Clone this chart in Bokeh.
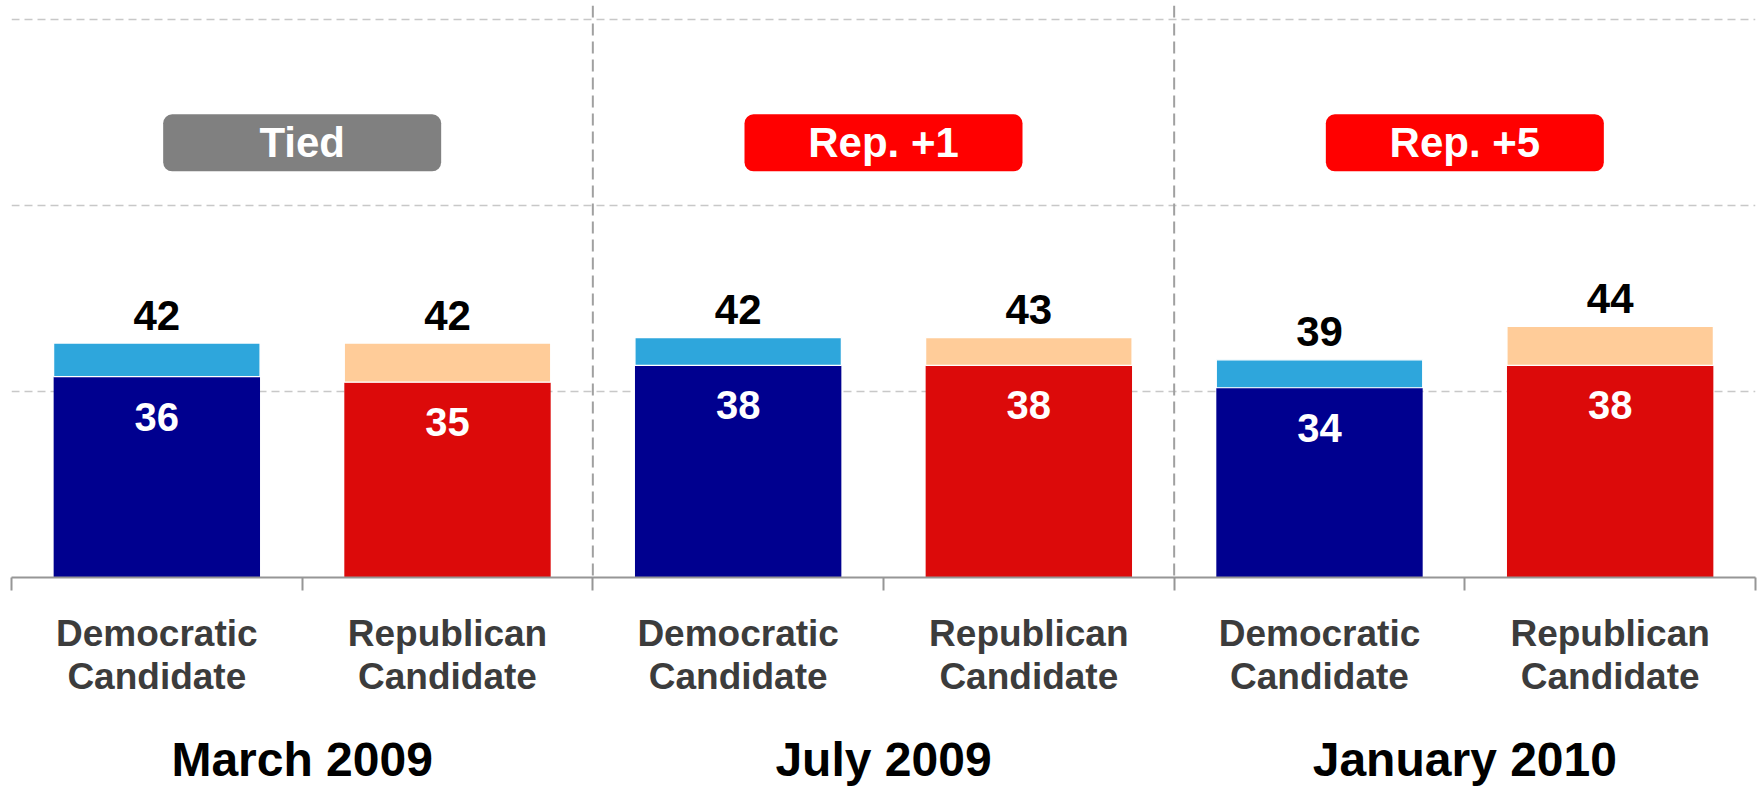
import numpy as np
from bokeh.plotting import figure
from bokeh.models import Range1d, LinearAxis, FixedTicker, Grid, Span
from bokeh.core.properties import value
from bokeh.embed import file_html
from bokeh.resources import INLINE

# ---------------- data ----------------
months = ["March 2009", "July 2009", "January 2010"]
candidates = ["Democratic\nCandidate", "Republican\nCandidate"]
dem_core = [36, 38, 34]
dem_lean = [6, 5, 5]
dem_total = [42, 42, 39]
rep_core = [35, 38, 38]
rep_lean = [7, 5, 7]
rep_total = [42, 43, 44]
margins = ["Tied", "Rep. +1", "Rep. +5"]

# ---------------- style ----------------
FONT = "Liberation Sans"
DEM_DARK, DEM_LIGHT = "#00008F", "#2EA6DC"
REP_DARK, REP_LIGHT = "#DC0A0A", "#FFCC99"
GRID_C, DIV_C, AXIS_C = "#C8C8C8", "#A0A0A0", "#969696"

n_groups = len(months)
n_cand = len(candidates)
n_cat = n_groups * n_cand
x_dem = np.arange(n_groups) * n_cand + 0.5
x_rep = x_dem + 1
group_centers = np.arange(n_groups) * n_cand + n_cand / 2
cat_centers = np.arange(n_cat) + 0.5

W, H = 1764, 789
BL, BR, BT, BB = 11, 9, 5, 212
Y_END = 102.5

p = figure(width=W, height=H, x_range=Range1d(0, n_cat), y_range=Range1d(0, Y_END),
           x_axis_type=None, y_axis_type=None, output_backend="svg", toolbar_location=None,
           min_border_left=BL, min_border_right=BR, min_border_top=BT, min_border_bottom=BB,
           outline_line_color=None, background_fill_color="white", border_fill_color="white")

# horizontal dashed grid (thirds of 0-100)
p.add_layout(Grid(dimension=1, ticker=FixedTicker(ticks=[100 / 3, 200 / 3, 100]),
                  grid_line_color=GRID_C, grid_line_dash="8 5", grid_line_width=1.3))

# bars
bw = 0.71
p.vbar(x=x_dem, bottom=0, top=dem_core, width=bw, fill_color=DEM_DARK, line_color=None)
p.vbar(x=x_dem, bottom=dem_core, top=np.add(dem_core, dem_lean), width=bw,
       fill_color=DEM_LIGHT, line_color="white", line_width=1.2)
p.vbar(x=x_rep, bottom=0, top=rep_core, width=bw, fill_color=REP_DARK, line_color=None)
p.vbar(x=x_rep, bottom=rep_core, top=np.add(rep_core, rep_lean), width=bw,
       fill_color=REP_LIGHT, line_color="white", line_width=1.2)

# value labels
common = dict(text_align="center", text_baseline="alphabetic",
              text_font=value(FONT), text_font_style="bold")
p.text(x=np.concatenate([x_dem, x_rep]),
       y=np.concatenate([np.add(dem_core, dem_lean), np.add(rep_core, rep_lean)]),
       text=[str(v) for v in dem_total + rep_total], y_offset=-28,
       text_font_size="42px", text_color="black", **common)
p.text(x=np.concatenate([x_dem, x_rep]), y=dem_core + rep_core,
       text=[str(v) for v in dem_core + rep_core], y_offset=40,
       text_font_size="40px", text_color="white", **common)

# margin badges
px_per_x = (W - BL - BR) / n_cat
px_per_y = (H - BT - BB) / Y_END
hw = 139 / px_per_x
hh = 28.5 / px_per_y
by = 77.9
badge_colors = ["#808080" if m == "Tied" else "#FF0000" for m in margins]
p.quad(left=group_centers - hw, right=group_centers + hw, bottom=by - hh, top=by + hh,
       fill_color=badge_colors, line_color=None, border_radius=9)
p.text(x=group_centers, y=[by] * n_groups, text=margins, y_offset=0,
       text_font_size="42px", text_color="white", **common)

# vertical dashed dividers between periods
for g in range(1, n_groups):
    p.add_layout(Span(location=g * n_cand, dimension="height", line_color=DIV_C,
                      line_width=2, line_dash="12 6"))

# candidate axis (ticks at category boundaries)
ax1 = LinearAxis(
    ticker=FixedTicker(ticks=list(cat_centers), minor_ticks=list(range(n_cat + 1))),
    major_label_overrides={float(c): candidates[i % n_cand] for i, c in enumerate(cat_centers)},
    axis_line_color=AXIS_C, axis_line_width=2,
    major_tick_line_color=None, major_tick_out=0, major_tick_in=0,
    minor_tick_line_color=AXIS_C, minor_tick_line_width=2, minor_tick_out=13, minor_tick_in=0,
    major_label_standoff=22, major_label_text_font=FONT, major_label_text_font_style="bold",
    major_label_text_font_size="37px", major_label_text_color="#3C3C3C",
    major_label_text_line_height=1.05)
p.add_layout(ax1, "below")

# period axis (group labels)
ax2 = LinearAxis(
    ticker=FixedTicker(ticks=list(group_centers), minor_ticks=[]),
    major_label_overrides={float(c): months[i] for i, c in enumerate(group_centers)},
    axis_line_color=None, major_tick_line_color=None, minor_tick_line_color=None,
    major_tick_out=0, major_tick_in=0, minor_tick_out=0, minor_tick_in=0,
    major_label_standoff=33, major_label_text_font=FONT, major_label_text_font_style="bold",
    major_label_text_font_size="48px", major_label_text_color="black")
p.add_layout(ax2, "below")

open("out.html", "w").write(file_html(p, INLINE))
